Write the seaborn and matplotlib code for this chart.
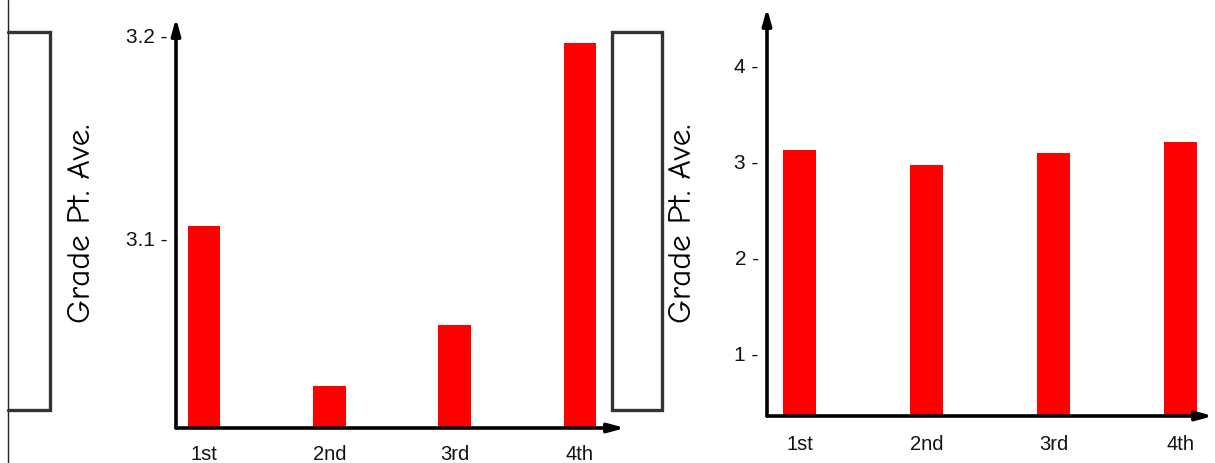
import matplotlib
matplotlib.use("Agg")
import matplotlib.pyplot as plt
import matplotlib.patches as mpatches
import seaborn as sns
import pandas as pd

# Data
categories = ["1st", "2nd", "3rd", "4th"]
gpa_zoomed = [3.106, 3.027, 3.057, 3.196]
gpa_full = [3.115, 2.96, 3.08, 3.20]
ticks_zoomed = [3.1, 3.2]
ticks_full = [1, 2, 3, 4]
ylabel = "Grade Pt. Ave."

sns.set_theme(style="white")
plt.rcParams['font.family'] = ['Liberation Sans', 'DejaVu Sans']

W, H = 1215, 463
fig = plt.figure(figsize=(W / 100, H / 100), dpi=100)


def fx(px):
    return px / W


def fy(py):
    return 1 - py / H


def make_panel(left, right, top, bottom, values, ylim, xlim, yticks, label_x, tick_fmt, xpad):
    ax = fig.add_axes([fx(left), fy(bottom), fx(right - left), fy(top) - fy(bottom)])
    df = pd.DataFrame({"cat": categories, "val": values})
    sns.barplot(data=df, x="cat", y="val", color="#ff0000", saturation=1,
                width=0.26, ax=ax, edgecolor="none")
    ax.set_ylim(*ylim)
    ax.set_xlim(*xlim)
    ax.set_yticks(yticks)
    ax.set_yticklabels([tick_fmt(t) + " -" for t in yticks], fontsize=15, color="#111111")
    ax.tick_params(axis="y", length=0, pad=6)
    ax.tick_params(axis="x", length=0, pad=xpad, labelsize=14.5, labelcolor="#111111")
    ax.set_xlabel("")
    ax.set_ylabel("")
    for s in ax.spines.values():
        s.set_visible(False)
    ax.patch.set_alpha(0)
    # axis arrows
    ax.annotate("", xy=(0, 1), xytext=(0, 0), xycoords="axes fraction",
                arrowprops=dict(arrowstyle="-|>,head_length=0.8,head_width=0.22",
                                lw=2.6, color="black", shrinkA=0, shrinkB=0))
    ax.annotate("", xy=(1, 0), xytext=(0, 0), xycoords="axes fraction",
                arrowprops=dict(arrowstyle="-|>,head_length=0.8,head_width=0.22",
                                lw=2.6, color="black", shrinkA=0, shrinkB=0))
    fig.text(fx(label_x), fy(223), ylabel, rotation=90, ha="center", va="center",
             fontsize=24, family=["Comic Neue", "Lato", "DejaVu Sans"], color="black")
    return ax


make_panel(176, 625, 18, 428, gpa_zoomed, (3.0064, 3.2084), (-0.225, 3.36),
           ticks_zoomed, 82, lambda t: f"{t:.1f}", 12)
make_panel(767, 1213, 8, 416, gpa_full, (0.344, 4.594), (-0.26, 3.26),
           ticks_full, 683, lambda t: f"{t:d}", 14)

# decorative boxes and left edge line
fig.add_artist(plt.Line2D([fx(8), fx(8)], [0, 1], transform=fig.transFigure,
                          color="#222222", lw=1))
fig.add_artist(plt.Line2D([fx(8), fx(50), fx(50), fx(8)],
                          [fy(32), fy(32), fy(410), fy(410)],
                          transform=fig.transFigure, color="#333333", lw=2.4,
                          solid_joinstyle="miter"))
fig.add_artist(mpatches.Rectangle((fx(612), fy(410)), fx(662 - 612), fy(32) - fy(410),
                                  transform=fig.transFigure, fill=False,
                                  edgecolor="#333333", lw=2.4, joinstyle="miter"))

fig.savefig("out.png", dpi=100)
